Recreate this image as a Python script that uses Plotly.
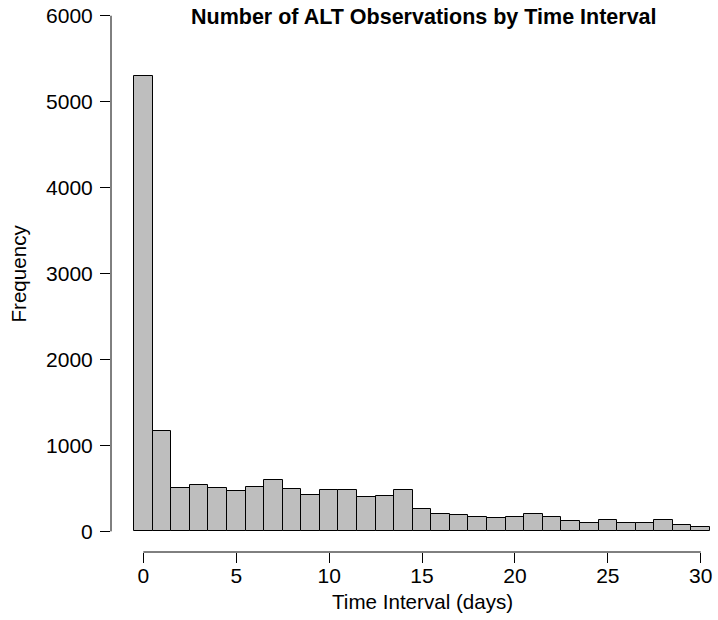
import plotly.graph_objects as go

# Data: histogram counts per 1-day bin (bins centered on integer days)
days = list(range(0, 31))
counts = [5300, 1170, 510, 545, 500, 468, 522, 603, 495, 422, 487, 484, 402, 414, 487,
          259, 201, 193, 162, 150, 173, 208, 162, 120, 97, 127, 103, 92, 131, 69, 50]
x_ticks = [0, 5, 10, 15, 20, 25, 30]
y_ticks = [0, 1000, 2000, 3000, 4000, 5000, 6000]

title_text = "Number of ALT Observations by Time Interval"
x_title = "Time Interval (days)"
y_title = "Frequency"

FONT = "Liberation Sans, Arial, Helvetica, sans-serif"
TICK_SIZE = 21
LABEL_SIZE = 20.6
TITLE_SIZE = 21.5

fig = go.Figure()
fig.add_trace(go.Bar(
    x=days, y=counts, width=1,
    marker=dict(color="#bebebe", line=dict(color="black", width=1)),
    hoverinfo="x+y",
))

fig.update_layout(
    width=718, height=620,
    margin=dict(l=111, r=0, t=0, b=68, pad=0),
    paper_bgcolor="white", plot_bgcolor="white",
    showlegend=False, bargap=0,
    font=dict(family=FONT, size=18, color="black"),
    xaxis=dict(range=[-1.74, 30.93], tickvals=x_ticks, ticktext=[str(v) for v in x_ticks],
               ticks="outside", ticklen=10, tickwidth=1, tickcolor="black",
               showline=False, showgrid=False, zeroline=False,
               tickfont=dict(family=FONT, size=TICK_SIZE, color="black"), ticklabelstandoff=-5),
    yaxis=dict(range=[-240, 6183], tickvals=y_ticks, ticktext=[str(v) for v in y_ticks],
               ticks="outside", ticklen=10, tickwidth=1, tickcolor="black",
               showline=False, showgrid=False, zeroline=False,
               tickfont=dict(family=FONT, size=TICK_SIZE, color="black"), ticklabelstandoff=3),
    shapes=[
        dict(type="line", xref="x", yref="paper", x0=x_ticks[0], x1=x_ticks[-1], y0=0, y1=0,
             line=dict(color="black", width=1)),
        dict(type="line", xref="paper", yref="y", x0=0, x1=0, y0=y_ticks[0], y1=y_ticks[-1],
             line=dict(color="black", width=1)),
    ],
    annotations=[
        dict(text="<b>" + title_text + "</b>", xref="paper", yref="paper", x=0.515, y=0.969,
             xanchor="center", yanchor="middle", showarrow=False,
             font=dict(family=FONT, size=TITLE_SIZE, color="black")),
        dict(text=x_title, xref="paper", yref="paper", x=0.513, y=-0.090,
             xanchor="center", yanchor="middle", showarrow=False,
             font=dict(family=FONT, size=LABEL_SIZE, color="black")),
        dict(text=y_title, xref="paper", yref="paper", x=-0.152, y=0.504, textangle=-90,
             xanchor="center", yanchor="middle", showarrow=False,
             font=dict(family=FONT, size=LABEL_SIZE, color="black")),
    ],
)

fig.write_html("out.html")
